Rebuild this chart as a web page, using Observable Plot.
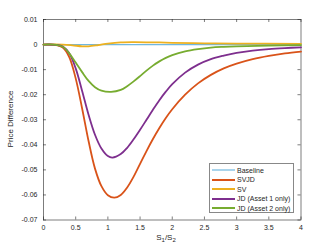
<!DOCTYPE html>
<html><head><meta charset="utf-8">
<script src="https://cdn.jsdelivr.net/npm/d3@7"></script>
<script src="https://cdn.jsdelivr.net/npm/@observablehq/plot@0.6"></script>
<style>
body{margin:0;background:#fff;}
#wrap{position:relative;width:332px;height:249px;font-family:"Liberation Sans",Arial,sans-serif;color:#262626;}
#xlabel{position:absolute;left:0;width:332px;top:233px;text-align:center;font-size:8px;}
#xlabel sub{font-size:6px;vertical-align:-2px;line-height:0;}
#ylabel{position:absolute;left:10px;top:119px;font-size:8px;transform:translate(-50%,-50%) rotate(-90deg);white-space:nowrap;}
#legend{position:absolute;left:209px;top:163px;width:85px;height:50px;border:0.7px solid #888;background:#fff;box-sizing:border-box;font-size:7px;}
.row{position:absolute;left:0;height:9px;display:flex;align-items:center;}
.row span.l{display:inline-block;width:23px;height:2px;margin-left:2px;margin-right:2px;}
</style></head>
<body><div id="wrap"><div id="chart"></div>
<div id="xlabel">S<sub>1</sub>/S<sub>2</sub></div>
<div id="ylabel">Price Difference</div>
<div id="legend"></div>
</div>
<script>
const seriesNames = ["Baseline","SVJD","SV","JD (Asset 1 only)","JD (Asset 2 only)"];
const seriesColors = ["#6fb7e0","#D95319","#EDB120","#7E2F8E","#77AC30"];
const xTicks = [0,0.5,1,1.5,2,2.5,3,3.5,4];
const yTicks = [-0.07,-0.06,-0.05,-0.04,-0.03,-0.02,-0.01,0,0.01];

const baselineX = [0,4];
const baselineY = [0,0];
const svjdX = [0,0.2,0.3,0.4,0.5,0.6,0.7,0.8,0.9,1.0,1.1,1.2,1.3,1.4,1.5,1.6,1.7,1.8,1.9,2.0,2.2,2.4,2.6,2.8,3.0,3.25,3.5,3.75,4.0];
const svjdY = [0,-0.0002,-0.0012,-0.0050,-0.0135,-0.0255,-0.0385,-0.0495,-0.0565,-0.0601,-0.0611,-0.0600,-0.0570,-0.0527,-0.0476,-0.0425,-0.0377,-0.0333,-0.0293,-0.0258,-0.0200,-0.0155,-0.0121,-0.0095,-0.0076,-0.0058,-0.0045,-0.0035,-0.0028];
const svX = [0,0.3,0.45,0.6,0.7,0.85,1.0,1.2,1.4,1.7,2.0,2.5,3.0,4.0];
const svY = [0,0,-0.0003,-0.0007,-0.0007,-0.0002,0.0004,0.0009,0.0010,0.0009,0.0007,0.0005,0.0004,0.0003];
const jd1X = [0,0.2,0.3,0.4,0.5,0.6,0.7,0.8,0.9,1.0,1.07,1.2,1.3,1.4,1.5,1.6,1.7,1.8,1.9,2.0,2.2,2.4,2.6,2.8,3.0,3.25,3.5,3.75,4.0];
const jd1Y = [0,-0.0001,-0.0008,-0.0035,-0.0095,-0.0185,-0.0280,-0.0360,-0.0415,-0.0445,-0.0451,-0.0437,-0.0412,-0.0378,-0.0340,-0.0300,-0.0260,-0.0222,-0.0188,-0.0158,-0.0112,-0.0080,-0.0058,-0.0044,-0.0033,-0.0024,-0.0018,-0.0014,-0.0011];
const jd2X = [0,0.2,0.3,0.4,0.5,0.6,0.7,0.8,0.9,1.05,1.2,1.3,1.4,1.5,1.6,1.7,1.8,1.9,2.0,2.2,2.4,2.6,2.8,3.0,3.5,4.0];
const jd2Y = [0,-0.0001,-0.0009,-0.0035,-0.0072,-0.0110,-0.0145,-0.0170,-0.0184,-0.0189,-0.0181,-0.0166,-0.0147,-0.0126,-0.0104,-0.0084,-0.0067,-0.0053,-0.0042,-0.0027,-0.0018,-0.0012,-0.0009,-0.0007,-0.0004,-0.0002];

const seriesX = [baselineX,svjdX,svX,jd1X,jd2X];
const seriesY = [baselineY,svjdY,svY,jd1Y,jd2Y];
const rows = [];
seriesNames.forEach((n,i)=>seriesX[i].forEach((x,j)=>rows.push({s:n,x,y:seriesY[i][j]})));

const fmt = v => (Math.abs(v)<1e-12 ? "0" : String(+v.toFixed(2)));
const tickLenX = 0.047, tickLenY = 0.0012;
const axisCol = "#262626";

const chart = Plot.plot({
  width:332, height:249,
  marginLeft:43, marginRight:31.5, marginTop:19, marginBottom:29.5,
  style:{fontFamily:"'Liberation Sans',Arial,sans-serif", fontSize:"7px", color:axisCol, background:"#fff"},
  x:{domain:[0,4]},
  y:{domain:[-0.07,0.01]},
  color:{domain:seriesNames, range:seriesColors},
  marks:[
    Plot.frame({stroke:axisCol, strokeWidth:0.6}),
    Plot.ruleX(xTicks,{x:d=>d, y1:-0.07, y2:-0.07+tickLenY, stroke:axisCol, strokeWidth:0.6}),
    Plot.ruleX(xTicks,{x:d=>d, y1:0.01, y2:0.01-tickLenY, stroke:axisCol, strokeWidth:0.6}),
    Plot.ruleY(yTicks,{y:d=>d, x1:0, x2:tickLenX, stroke:axisCol, strokeWidth:0.6}),
    Plot.ruleY(yTicks,{y:d=>d, x1:4, x2:4-tickLenX, stroke:axisCol, strokeWidth:0.6}),
    Plot.axisX({ticks:xTicks, tickSize:0, tickPadding:5, tickFormat:fmt, label:null}),
    Plot.axisY({ticks:yTicks, tickSize:0, tickPadding:6, tickFormat:fmt, label:null}),
    Plot.line(rows.filter(d=>d.s==="Baseline"),{x:"x",y:"y",stroke:"s",strokeWidth:1.3}),
    Plot.line(rows.filter(d=>d.s!=="Baseline"),{x:"x",y:"y",z:"s",stroke:"s",strokeWidth:1.8,curve:"catmull-rom"})
  ]
});
document.getElementById("chart").appendChild(chart);

const lg = document.getElementById("legend");
seriesNames.forEach((n,i)=>{
  const r = document.createElement("div");
  r.className="row";
  r.style.top = (1.5 + i*9.6)+"px";
  r.innerHTML = `<span class="l" style="background:${seriesColors[i]};${i===0?'opacity:0.6':''}"></span><span>${n}</span>`;
  lg.appendChild(r);
});
</script></body></html>
